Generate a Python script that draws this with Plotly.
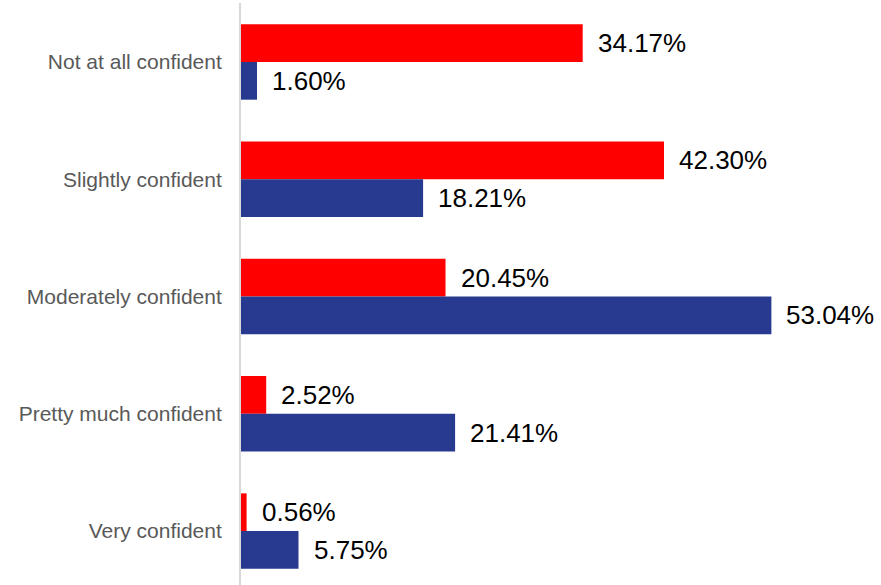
import plotly.graph_objects as go

categories = ["Not at all confident", "Slightly confident", "Moderately confident",
              "Pretty much confident", "Very confident"]
red_values = [34.17, 42.30, 20.45, 2.52, 0.56]
blue_values = [1.60, 18.21, 53.04, 21.41, 5.75]

RED = "#FF0000"
BLUE = "#283A8F"
bar_px = 37.7  # height of one bar in pixels

fig = go.Figure()
fig.add_trace(go.Bar(y=categories, x=red_values, orientation="h",
                     marker=dict(color=RED, line_width=0), showlegend=False))
fig.add_trace(go.Bar(y=categories, x=blue_values, orientation="h",
                     marker=dict(color=BLUE, line_width=0), showlegend=False))

annotations = []
for i, (r, b) in enumerate(zip(red_values, blue_values)):
    for val, shift in ((r, bar_px / 2), (b, -bar_px / 2)):
        annotations.append(dict(
            x=val, y=i, xref="x", yref="y", text=f"{val:.2f}%",
            showarrow=False, xanchor="left", yanchor="middle",
            xshift=13, yshift=shift,
            font=dict(family="Liberation Sans, Arial", size=26, color="#000000")))

fig.update_layout(
    width=881, height=585,
    margin=dict(l=241, r=0, t=3, b=0),
    paper_bgcolor="white", plot_bgcolor="white",
    barmode="group", bargap=0.357, bargroupgap=0,
    annotations=annotations,
    xaxis=dict(range=[0, 64], showgrid=False, zeroline=False,
               showticklabels=False, showline=False),
    yaxis=dict(range=[4.46, -0.503], showgrid=False, zeroline=False,
               showline=True, linecolor="#D9D9D9", linewidth=2,
               ticks="", ticklabelstandoff=13,
               tickfont=dict(family="Liberation Sans, Arial", size=21, color="#595959")),
)

fig.write_html("out.html")
